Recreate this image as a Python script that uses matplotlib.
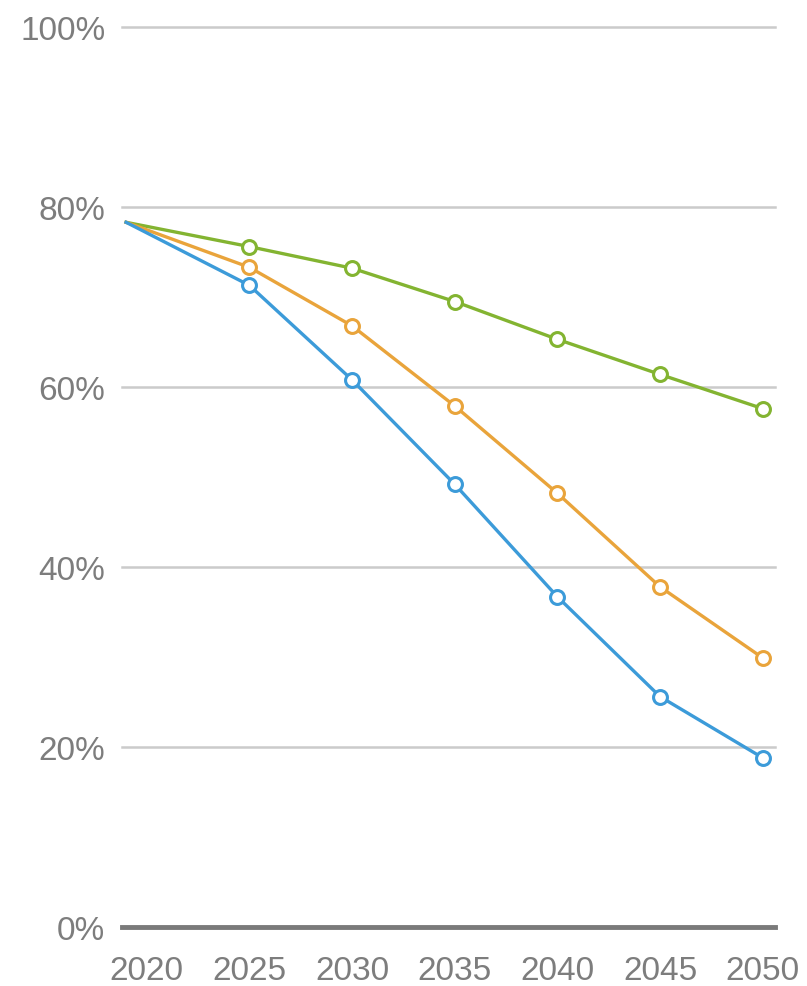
import matplotlib
matplotlib.use("Agg")
import matplotlib.pyplot as plt
from matplotlib.ticker import FuncFormatter

# data (share in %), first point is the baseline year
years = [2019, 2025, 2030, 2035, 2040, 2045, 2050]
green = [78.3, 75.6, 73.2, 69.5, 65.3, 61.4, 57.6]
orange = [78.3, 73.3, 66.8, 57.9, 48.2, 37.8, 29.9]
blue = [78.3, 71.3, 60.8, 49.2, 36.7, 25.6, 18.8]
xticks = [2020, 2025, 2030, 2035, 2040, 2045, 2050]
yticks = [0, 20, 40, 60, 80, 100]

series = [
    (green, "#83b431"),
    (orange, "#e9a43b"),
    (blue, "#3c9bd9"),
]

plt.rcParams["font.family"] = ["Liberation Sans", "DejaVu Sans"]

fig = plt.figure(figsize=(8.07, 9.87), dpi=100)
ax = fig.add_axes([122 / 807, 59 / 987, (775 - 122) / 807, (928 - 28) / 987])

for vals, col in series:
    ax.plot(years, vals, color=col, lw=2.4, marker="o", markersize=10,
            markerfacecolor="white", markeredgecolor=col, markeredgewidth=2.2,
            markevery=slice(1, None), zorder=3, clip_on=False)

for t in yticks:
    if t == 0:
        ax.axhline(t, color="#7a7a7a", lw=3.5, zorder=2, clip_on=False)
    else:
        ax.axhline(t, color="#cbcbcb", lw=1.8, zorder=1, clip_on=False)

ax.set_xlim(2018.8, 2050.6)
ax.set_ylim(0, 100)
ax.set_xticks(xticks)
ax.set_yticks(yticks)
ax.yaxis.set_major_formatter(FuncFormatter(lambda v, p: f"{v:.0f}%"))
ax.tick_params(axis="both", length=0, labelsize=24, labelcolor="#7d7d7d")
ax.tick_params(axis="x", pad=20)
ax.tick_params(axis="y", pad=12)
for s in ax.spines.values():
    s.set_visible(False)

fig.savefig("out.png", dpi=100)
